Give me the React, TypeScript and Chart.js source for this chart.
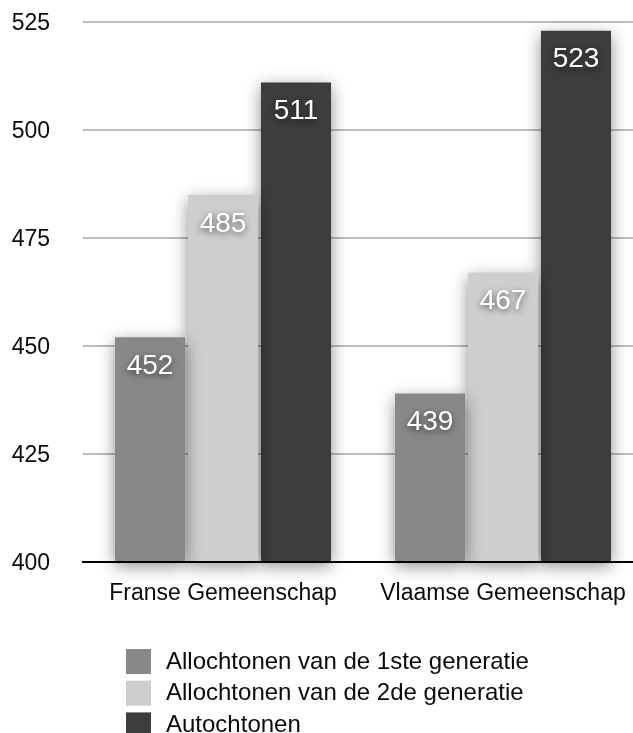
import React, { useEffect, useRef } from 'react';
import { Chart, registerables } from 'chart.js';

Chart.register(...registerables);

const categories = ['Franse Gemeenschap', 'Vlaamse Gemeenschap'];
const seriesNames = [
  'Allochtonen van de 1ste generatie',
  'Allochtonen van de 2de generatie',
  'Autochtonen',
];
const firstGeneration = [452, 439];
const secondGeneration = [485, 467];
const natives = [511, 523];
const yTicks = [400, 425, 450, 475, 500, 525];
const seriesColors = ['#888888', '#cdcecd', '#3c3d3c'];

const FONT = '"Liberation Sans", Arial, Helvetica, sans-serif';

const barShadowAndLabels = {
  id: 'barShadowAndLabels',
  beforeDatasetsDraw(chart: any) {
    const ctx = chart.ctx;
    ctx.save();
    ctx.shadowColor = 'rgba(0,0,0,0.45)';
    ctx.shadowBlur = 16;
    ctx.shadowOffsetX = 0;
    ctx.shadowOffsetY = 5;
  },
  afterDatasetsDraw(chart: any) {
    const ctx = chart.ctx;
    ctx.restore();
    ctx.save();
    ctx.font = `28px ${FONT}`;
    ctx.textAlign = 'center';
    ctx.textBaseline = 'middle';
    ctx.fillStyle = '#ffffff';
    ctx.shadowColor = 'rgba(0,0,0,0.6)';
    ctx.shadowBlur = 6;
    ctx.shadowOffsetY = 2;
    chart.data.datasets.forEach((ds: any, di: number) => {
      const meta = chart.getDatasetMeta(di);
      meta.data.forEach((bar: any, i: number) => {
        ctx.fillText(String(ds.data[i]), bar.x, bar.y + 29);
      });
    });
    ctx.restore();
  },
};

const bottomLegend = {
  id: 'bottomLegend',
  afterDraw(chart: any) {
    const ctx = chart.ctx;
    ctx.save();
    ctx.font = `24px ${FONT}`;
    ctx.textAlign = 'left';
    ctx.textBaseline = 'middle';
    chart.data.datasets.forEach((ds: any, i: number) => {
      const top = 649 + i * 31.7;
      ctx.fillStyle = ds.backgroundColor;
      ctx.fillRect(126, top, 25, 25);
      ctx.fillStyle = '#0a0a0a';
      ctx.fillText(ds.label, 166, top + 13);
    });
    ctx.restore();
  },
};

export default function App() {
  const canvasRef = useRef<HTMLCanvasElement | null>(null);

  useEffect(() => {
    if (!canvasRef.current) return;
    const seriesValues = [firstGeneration, secondGeneration, natives];
    const chart = new Chart(canvasRef.current, {
      type: 'bar',
      data: {
        labels: categories,
        datasets: seriesNames.map((name, i) => ({
          label: name,
          data: seriesValues[i],
          backgroundColor: seriesColors[i],
          borderWidth: 0,
          base: yTicks[0],
          categoryPercentage: 0.782,
          barPercentage: 0.96,
          clip: false as any,
        })),
      },
      options: {
        responsive: false,
        animation: false,
        devicePixelRatio: 1,
        layout: { padding: { top: 22, right: 17, left: 0, bottom: 0 } },
        plugins: {
          legend: { display: false },
          tooltip: { enabled: false },
        },
        scales: {
          x: {
            grid: { display: false, drawTicks: false },
            border: { display: true, color: '#000000', width: 2, z: 1 } as any,
            ticks: {
              color: '#0a0a0a',
              font: { family: FONT, size: 23 },
              padding: 18,
            },
            afterFit(scale: any) {
              scale.height = 171;
              scale.paddingLeft = 0;
              scale.paddingRight = 0;
            },
          },
          y: {
            min: yTicks[0],
            max: yTicks[yTicks.length - 1],
            grid: { color: '#bcbcbc', lineWidth: 2, drawTicks: false },
            border: { display: false },
            ticks: {
              stepSize: yTicks[1] - yTicks[0],
              color: '#0a0a0a',
              font: { family: FONT, size: 23 },
              padding: 33,
              labelOffset: 2,
            },
            afterFit(scale: any) {
              scale.width = 83;
              scale.paddingTop = 0;
              scale.paddingBottom = 0;
            },
          },
        },
      },
      plugins: [barShadowAndLabels, bottomLegend],
    });
    return () => chart.destroy();
  }, []);

  return (
    <div
      style={{
        position: 'absolute',
        left: 0,
        top: 0,
        width: 633,
        height: 733,
        overflow: 'hidden',
        background: '#ffffff',
      }}
    >
      <canvas ref={canvasRef} width={660} height={733} />
    </div>
  );
}
